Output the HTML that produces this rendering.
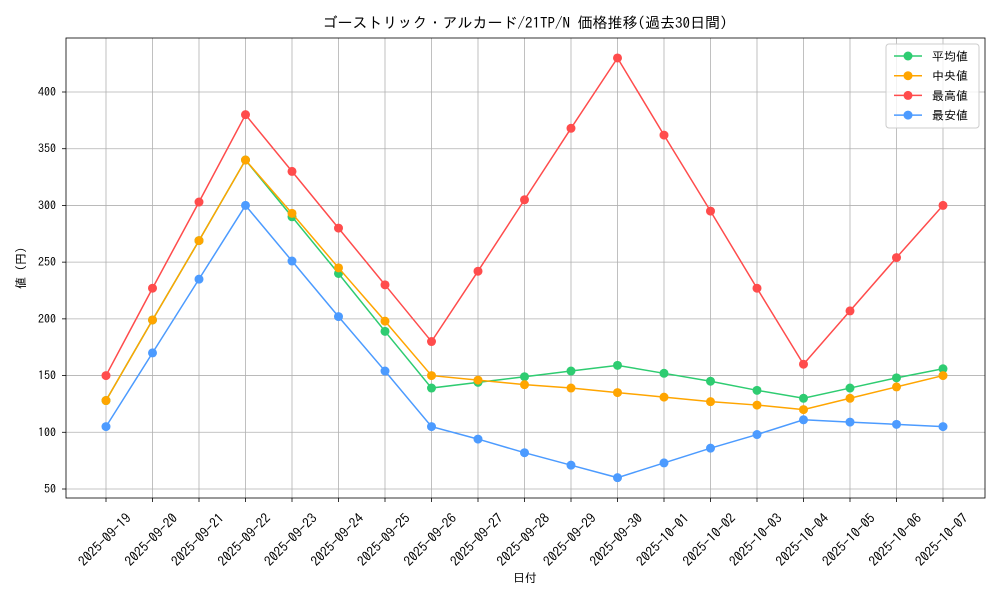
<!DOCTYPE html>
<html><head><meta charset="utf-8"><style>
body{margin:0;background:#fff;}
svg{font-family:"IPAGothic","Liberation Sans","Noto Sans CJK JP",sans-serif;}
</style></head><body>
<svg id="chart" width="1000" height="600" viewBox="0 0 1000 600" xmlns="http://www.w3.org/2000/svg"></svg>
<script>
const categories=["2025-09-19","2025-09-20","2025-09-21","2025-09-22","2025-09-23","2025-09-24","2025-09-25","2025-09-26","2025-09-27","2025-09-28","2025-09-29","2025-09-30","2025-10-01","2025-10-02","2025-10-03","2025-10-04","2025-10-05","2025-10-06","2025-10-07"];
const avgValues=[128,199,269,340,290,240,189,139,144,149,154,159,152,145,137,130,139,148,156];
const medianValues=[128,199,269,340,293,245,198,150,146,142,139,135,131,127,124,120,130,140,150];
const maxValues=[150,227,303,380,330,280,230,180,242,305,368,430,362,295,227,160,207,254,300];
const minValues=[105,170,235,300,251,202,154,105,94,82,71,60,73,86,98,111,109,107,105];
const yTicks=[50,100,150,200,250,300,350,400];
const seriesNames=["平均値","中央値","最高値","最安値"];
const seriesColors=["#2ecc71","#ffa500","#ff4c4c","#4c9bff"];
const seriesData=[avgValues,medianValues,maxValues,minValues];

const NS="http://www.w3.org/2000/svg";
const svg=document.getElementById('chart');
const L=66,R=985,T=38,B=498;
const x=i=>106+i*(943-106)/(categories.length-1);
const y=v=>489-(v-50)*(489-92)/350;
function el(tag,attrs,parent){const e=document.createElementNS(NS,tag);for(const k in attrs)e.setAttribute(k,attrs[k]);(parent||svg).appendChild(e);return e;}

const grid=el('g',{});


categories.forEach((c,i)=>{
  el('line',{x1:x(i),x2:x(i),y1:T,y2:B,stroke:'#b0b0b0','stroke-width':0.8},grid);
  el('line',{x1:x(i),x2:x(i),y1:B,y2:B+4,stroke:'#000','stroke-width':0.8});
  const t=el('text',{x:0,y:0,'font-size':13.5,'text-anchor':'middle',transform:`translate(${x(i)+2},${B+45}) rotate(-45)`});
  
  
  t.textContent=c;
});
yTicks.forEach(v=>{
  el('line',{x1:L,x2:R,y1:y(v),y2:y(v),stroke:'#b0b0b0','stroke-width':0.8},grid);
  el('line',{x1:L-4,x2:L,y1:y(v),y2:y(v),stroke:'#000','stroke-width':0.8});
  const t=el('text',{x:L-10,y:y(v)+4,'font-size':12,'text-anchor':'end'});
  
  
  t.textContent=v;
});
const frame=el('rect',{x:L,y:T,width:R-L,height:B-T,fill:'none',stroke:'#000','stroke-width':0.8});



seriesData.forEach((d,s)=>{
  const g=el('g',{});
  
  
  el('polyline',{points:d.map((v,i)=>x(i)+','+y(v)).join(' '),fill:'none',stroke:seriesColors[s],'stroke-width':1.5},g);
  d.forEach((v,i)=>{
    const c=el('circle',{cx:x(i),cy:y(v),r:4.5,fill:seriesColors[s]},g);
    
    
  });
});

const title=el('text',{x:525,y:28,'font-size':15,'text-anchor':'middle'});


title.textContent='ゴーストリック・アルカード/21TP/N 価格推移(過去30日間)';
const xt=el('text',{x:525,y:582,'font-size':12,'text-anchor':'middle'});


xt.textContent='日付';
const yt=el('text',{x:0,y:0,'font-size':12,'text-anchor':'middle',transform:'translate(25,268) rotate(-90)'});


yt.textContent='値 (円)';

const lg=el('g',{});


el('rect',{x:886,y:44,width:93,height:84,rx:3,fill:'#fff','fill-opacity':0.8,stroke:'#ccc'},lg);
seriesNames.forEach((n,s)=>{
  const yy=56+s*19.7;
  const e=el('g',{},lg);
  
  
  el('line',{x1:894,x2:922,y1:yy,y2:yy,stroke:seriesColors[s],'stroke-width':1.5},e);
  el('circle',{cx:908,cy:yy,r:4.5,fill:seriesColors[s]},e);
  const t=el('text',{x:932,y:yy+4.5,'font-size':12},e);
  t.textContent=n;
});
</script>
</body></html>
